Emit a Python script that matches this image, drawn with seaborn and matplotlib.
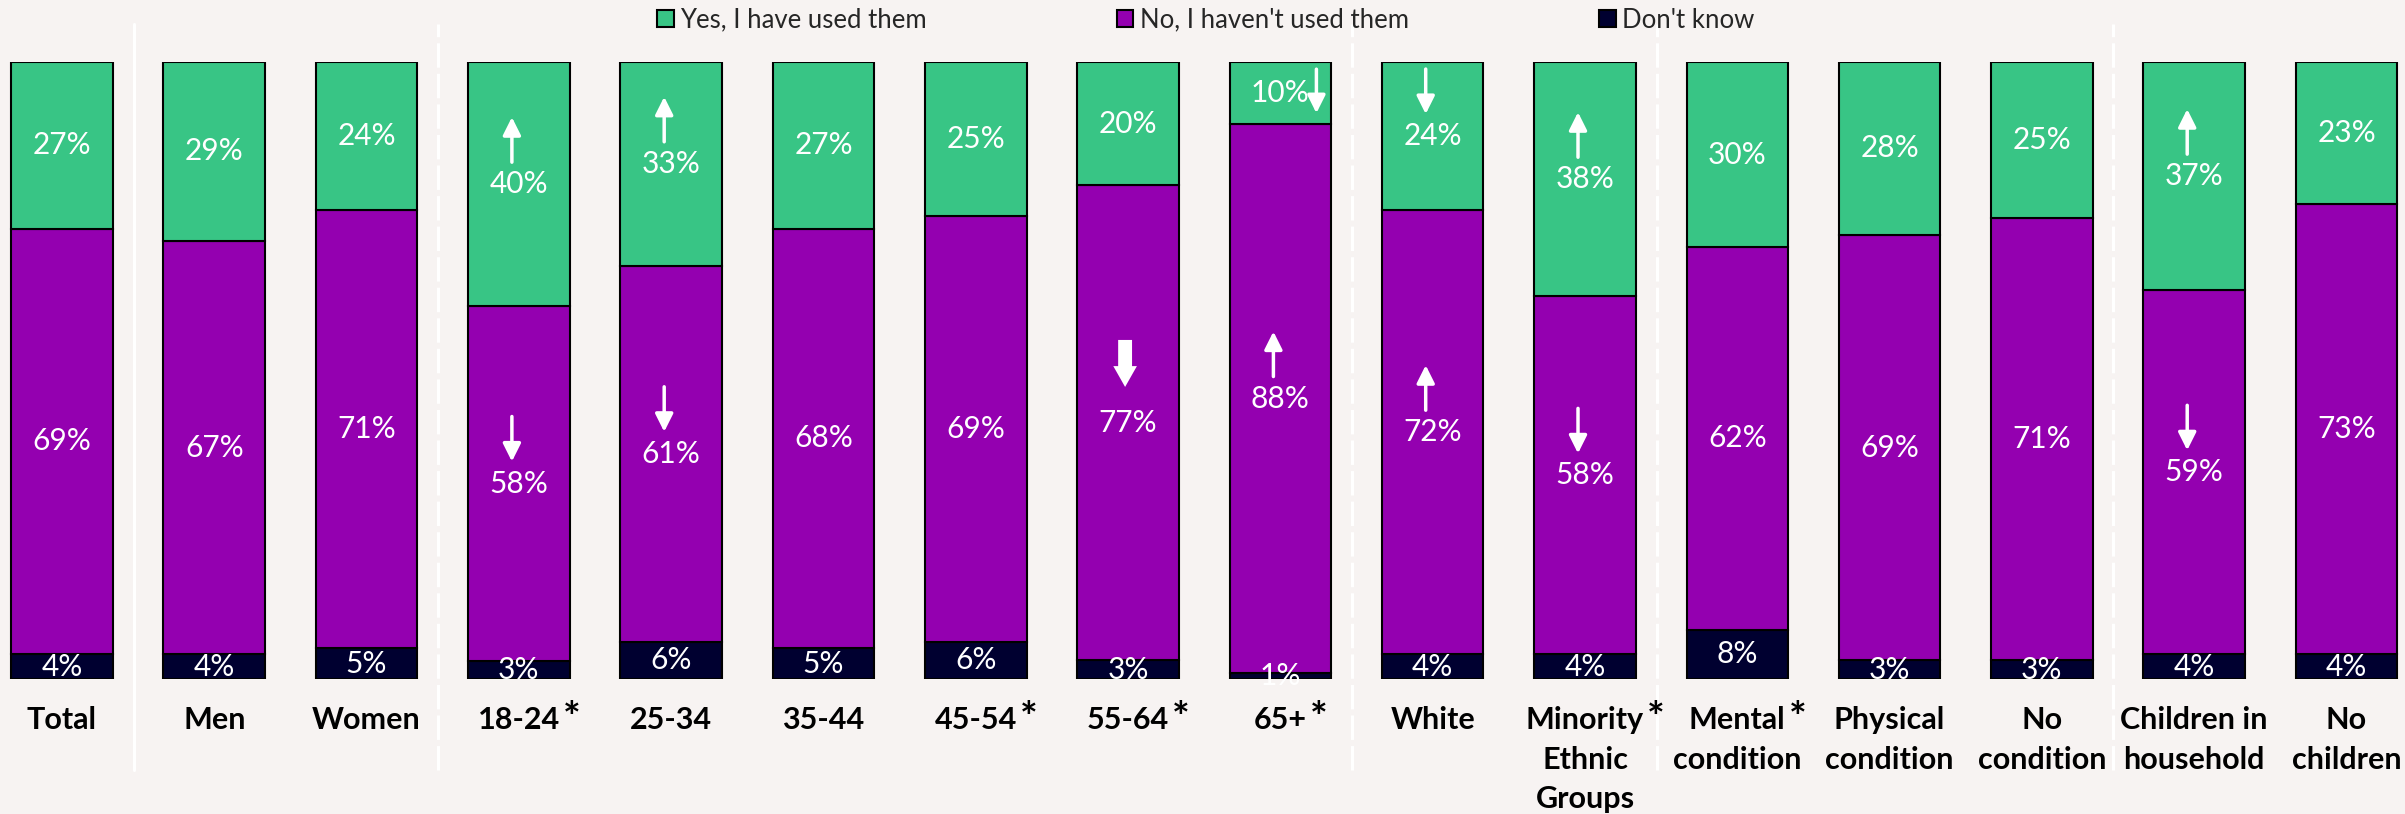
import numpy as np
import pandas as pd
import matplotlib
matplotlib.use("Agg")
import matplotlib.pyplot as plt
from matplotlib.patches import Patch
import seaborn as sns

# ---- data -------------------------------------------------------------
groups = ["Total", "Men", "Women", "18-24", "25-34", "35-44", "45-54", "55-64",
          "65+", "White", "Minority\nEthnic\nGroups", "Mental\ncondition",
          "Physical\ncondition", "No\ncondition", "Children in\nhousehold",
          "No\nchildren"]
starred = [False, False, False, True, False, False, True, True, True, False,
           True, True, False, False, False, False]
used = [27, 29, 24, 40, 33, 27, 25, 20, 10, 24, 38, 30, 28, 25, 37, 23]
not_used = [69, 67, 71, 58, 61, 68, 69, 77, 88, 72, 58, 62, 69, 71, 59, 73]
dont_know = [4, 4, 5, 3, 6, 5, 6, 3, 1, 4, 4, 8, 3, 3, 4, 4]
series_names = ["Yes, I have used them", "No, I haven't used them", "Don't know"]

# significance markers: (group index, series, kind)
markers = [
    (3, "used", "up"), (3, "not_used", "down"),
    (4, "used", "up"), (4, "not_used", "down"),
    (7, "not_used", "bold_down"),
    (8, "used", "side_down"), (8, "not_used", "up"),
    (9, "used", "down"), (9, "not_used", "up"),
    (10, "used", "up"), (10, "not_used", "down"),
    (14, "used", "up"), (14, "not_used", "down"),
]
# last group index of each section (divider drawn after it)
section_ends = [0, 2, 8, 10, 13]

# ---- styling ----------------------------------------------------------
BG = "#F7F3F2"
GREEN = "#38C585"
PURPLE = "#9400B0"
NAVY = "#000030"
LABEL_SIZE = 22

sns.set_theme(style="white")
plt.rcParams["font.family"] = ["Lato", "DejaVu Sans"]

df = pd.DataFrame({"group": groups, "used": used,
                   "not_used": not_used, "dont_know": dont_know})
totals = df[["used", "not_used", "dont_know"]].sum(axis=1)
for col in ["used", "not_used", "dont_know"]:
    df[col + "_share"] = df[col] / totals

bottoms = {
    "dont_know": np.zeros(len(df)),
    "not_used": df["dont_know_share"].to_numpy(),
    "used": (df["dont_know_share"] + df["not_used_share"]).to_numpy(),
}
colors = {"used": GREEN, "not_used": PURPLE, "dont_know": NAVY}

W, H = 2405, 814
fig = plt.figure(figsize=(W / 100, H / 100), dpi=100, facecolor=BG)
ax = fig.add_axes([0, 135 / H, 1, 617 / H])
ax.set_facecolor(BG)

for col in ["dont_know", "not_used", "used"]:
    sns.barplot(data=df, x="group", y=col + "_share", order=groups,
                bottom=bottoms[col], color=colors[col], saturation=1,
                width=0.667, edgecolor="black", linewidth=1.5, ax=ax)

ax.set_xlim(-0.407, 15.384)
ax.set_ylim(0, 1)
ax.set_xlabel("")
ax.set_ylabel("")
ax.set_yticks([])
sns.despine(ax=ax, left=True, bottom=True)

# ---- category labels --------------------------------------------------
PAD = 19.5
ax.tick_params(axis="x", length=0, pad=PAD)
ax.set_xticks(range(len(groups)))
ax.set_xticklabels(groups, fontsize=LABEL_SIZE, fontweight="bold",
                   color="black", linespacing=1.5)

fig.canvas.draw()
renderer = fig.canvas.get_renderer()
trans, _, _ = ax.get_xaxis_text1_transform(PAD)
for i, (lab, star) in enumerate(zip(groups, starred)):
    if not star:
        continue
    # width of the first label line, so the star sits right after it
    probe = ax.text(0, 0, lab.split("\n")[0], fontsize=LABEL_SIZE,
                    fontweight="bold")
    half_w = probe.get_window_extent(renderer).width / 2 * 72 / fig.dpi
    probe.remove()
    ax.annotate("*", xy=(i, 0), xycoords=trans, xytext=(half_w + 2, 4),
                textcoords="offset points", ha="left", va="top",
                fontsize=30, fontweight="bold", color="black")

# ---- value labels -----------------------------------------------------
centers = {}
for col in ["used", "not_used", "dont_know"]:
    centers[col] = bottoms[col] + df[col + "_share"].to_numpy() / 2
    for i, v in enumerate(df[col]):
        ax.text(i, centers[col][i], f"{v}%", ha="center", va="center",
                color="white", fontsize=21.5)

# ---- significance arrows ----------------------------------------------
x_px = ax.transData.transform((1, 0))[0] - ax.transData.transform((0, 0))[0]
y_px = ax.transData.transform((0, 1))[1] - ax.transData.transform((0, 0))[1]
dx, dy = 1 / x_px, 1 / y_px

thin = dict(arrowstyle="-|>,head_length=0.54,head_width=0.27", color="white",
            lw=2.5, mutation_scale=20, shrinkA=0, shrinkB=0)
bold = dict(arrowstyle="simple,head_length=1.5,head_width=1.7,tail_width=1.0",
            color="white", lw=0, mutation_scale=10, shrinkA=0, shrinkB=0)
for i, col, kind in markers:
    c = centers[col][i]
    if kind == "up":
        x = i - 7 * dx
        tip, tail, props = c + 67 * dy, c + 22 * dy, thin
    elif kind == "down":
        x = i - 7 * dx
        tip, tail, props = c + 22 * dy, c + 67 * dy, thin
    elif kind == "bold_down":
        x = i - 3 * dx
        tip, tail, props = c + 36 * dy, c + 83 * dy, bold
    else:  # side_down
        x = i + 36 * dx
        tip, tail, props = c - 20 * dy, c + 24 * dy, thin
    ax.annotate("", xy=(x, tip), xytext=(x, tail), arrowprops=props)

# ---- section dividers -------------------------------------------------
for k, e in enumerate(section_ends):
    xs = e + 0.47
    ax.plot([xs, xs], [-0.147, 1.062], color="white", lw=2.2,
            linestyle="-" if k == 0 else (0, (8, 2)), clip_on=False, zorder=0.5)

# ---- legend -----------------------------------------------------------
handles = [Patch(facecolor=colors[c], edgecolor="black", linewidth=1.5)
           for c in ["used", "not_used", "dont_know"]]
fig.legend(handles, series_names, loc="center", bbox_to_anchor=(0.5013, 1 - 20 / H),
           ncol=3, frameon=False, fontsize=18.5, handlelength=0.65,
           handleheight=0.65, handletextpad=0.25, columnspacing=7.4,
           borderpad=0, borderaxespad=0)

fig.savefig("out.png", dpi=100, facecolor=BG)
